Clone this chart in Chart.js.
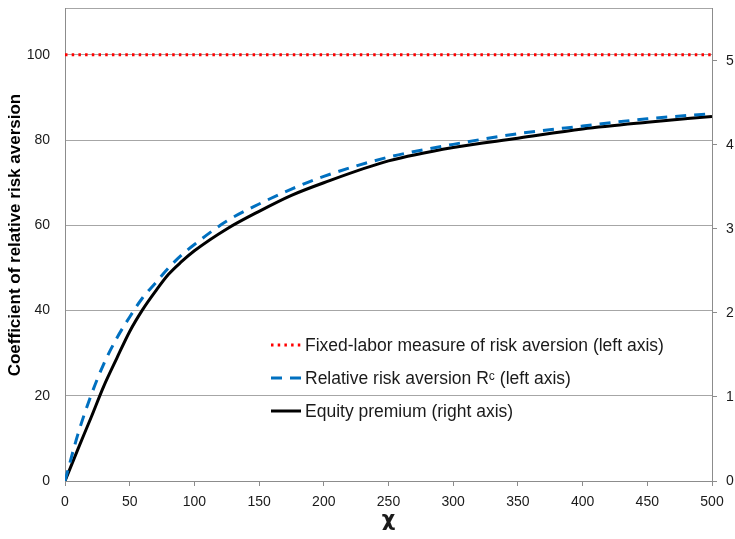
<!DOCTYPE html>
<html>
<head>
<meta charset="utf-8">
<script src="https://cdn.jsdelivr.net/npm/chart.js@4/dist/chart.umd.min.js"></script>
<style>
  body { margin: 0; background: #fff; }
  #wrap { width: 735px; height: 539px; }
</style>
</head>
<body>
<div id="wrap"><canvas id="chart1" width="735" height="539"></canvas></div>
<script>
'use strict';

// values
const chiValues = [0, 10, 20, 30, 40, 50, 60, 70, 80, 90, 100, 125, 150, 175, 200, 250, 300, 350, 400, 450, 500];
const relRiskAversion = [0, 11, 20, 27.5, 33.5, 38.5, 43, 46.5, 50, 53, 55.5, 61, 65, 68.5, 71.5, 76, 79, 81.5, 83.3, 85, 86.2];
const equityPremium = [0, 0.38, 0.75, 1.13, 1.46, 1.78, 2.04, 2.26, 2.46, 2.61, 2.74, 3.0, 3.21, 3.40, 3.55, 3.81, 3.97, 4.08, 4.19, 4.27, 4.34];
const fixedLaborChi = [0, 500];
const fixedLaborValues = [100, 100];

const leftTicks = [0, 20, 40, 60, 80, 100];
const rightTicks = [0, 1, 2, 3, 4, 5];
const leftMax = 111;
const rightMax = 5.63;

const legendLabels = [
    'Fixed-labor measure of risk aversion (left axis)',
    'Relative risk aversion R\u1D9C (left axis)',
    'Equity premium (right axis)'
];

const FONT = '"Liberation Sans", Arial, sans-serif';
const TXT = '#1a1a1a';
const AXIS = '#8c8c8c';

function pts(xs, ys) {
    return xs.map(function (x, i) { return {x: x, y: ys[i]}; });
}

// legend drawn inside the plot, like the original
const innerLegend = {
    id: 'innerLegend',
    afterDraw: function (chart) {
        const ctx = chart.ctx;
        const sets = chart.data.datasets;
        const x0 = 271, x1 = 301, tx = 305;
        const rows = [345, 378, 411];
        ctx.save();
        ctx.font = '17.5px ' + FONT;
        ctx.textBaseline = 'middle';
        ctx.fillStyle = TXT;
        for (let i = 0; i < sets.length; i++) {
            const ds = sets[i];
            ctx.beginPath();
            ctx.strokeStyle = ds.borderColor;
            ctx.lineWidth = ds.borderWidth;
            ctx.lineCap = ds.borderCapStyle || 'butt';
            ctx.setLineDash(ds.borderDash || []);
            ctx.moveTo(x0, rows[i]);
            ctx.lineTo(x1, rows[i]);
            ctx.stroke();
            ctx.fillText(legendLabels[i], tx, rows[i] + 1);
        }
        ctx.restore();
    }
};

function noEdgePad(s) {
    s.paddingTop = 0;
    s.paddingBottom = 0;
}

const chartConfig = {
    type: 'line',
    data: {
        datasets: [{
            data: pts(fixedLaborChi, fixedLaborValues),
            yAxisID: 'y',
            borderColor: '#ff0000',
            borderWidth: 3,
            borderDash: [2.5, 4.2],
            pointRadius: 0,
            fill: false
        }, {
            data: pts(chiValues, relRiskAversion),
            yAxisID: 'y',
            borderColor: '#0070c0',
            borderWidth: 3,
            borderDash: [11, 8],
            pointRadius: 0,
            cubicInterpolationMode: 'monotone',
            fill: false
        }, {
            data: pts(chiValues, equityPremium),
            yAxisID: 'y1',
            borderColor: '#000000',
            borderWidth: 3,
            pointRadius: 0,
            cubicInterpolationMode: 'monotone',
            fill: false
        }]
    },
    options: {
        responsive: false,
        animation: false,
        events: [],
        layout: { padding: { top: 8, left: 0, right: 0, bottom: 0 } },
        plugins: {
            legend: { display: false },
            tooltip: { enabled: false }
        },
        scales: {
            x: {
                type: 'linear',
                min: 0,
                max: 500,
                ticks: { stepSize: 50, color: TXT, font: { family: FONT, size: 14 }, padding: 8, maxRotation: 0 },
                grid: { drawOnChartArea: false, drawTicks: true, tickLength: 5, color: AXIS },
                border: { color: AXIS },
                title: { display: true, text: 'χ', color: TXT, font: { family: '"DejaVu Sans", sans-serif', size: 21, weight: 'bold' }, padding: { top: 0, bottom: 6 } },
                afterFit: function (s) { s.height = 58; }
            },
            y: {
                position: 'left',
                min: 0,
                max: leftMax,
                afterBuildTicks: function (s) {
                    s.ticks = leftTicks.concat([leftMax]).map(function (v) { return {value: v}; });
                },
                ticks: {
                    color: TXT,
                    font: { family: FONT, size: 14 },
                    padding: 15,
                    callback: function (v) { return v === leftMax ? '' : v; }
                },
                grid: { color: '#a6a6a6', drawTicks: false },
                border: { color: AXIS },
                title: { display: true, text: '    Coefficient of relative risk aversion', color: '#000', font: { family: FONT, size: 17, weight: 'bold' }, padding: { top: 5, bottom: 0 } },
                afterFit: function (s) { noEdgePad(s); s.width = 65; }
            },
            y1: {
                position: 'right',
                min: 0,
                max: rightMax,
                afterBuildTicks: function (s) {
                    s.ticks = rightTicks.map(function (v) { return {value: v}; });
                },
                ticks: { color: TXT, font: { family: FONT, size: 14 }, padding: 9 },
                grid: { drawOnChartArea: false, drawTicks: true, tickLength: 5, color: AXIS },
                border: { color: AXIS },
                afterFit: function (s) { noEdgePad(s); s.width = 23; }
            }
        }
    },
    plugins: [innerLegend]
};

window.onload = function () {
    new Chart(document.getElementById('chart1'), chartConfig);
};
</script>
</body>
</html>
